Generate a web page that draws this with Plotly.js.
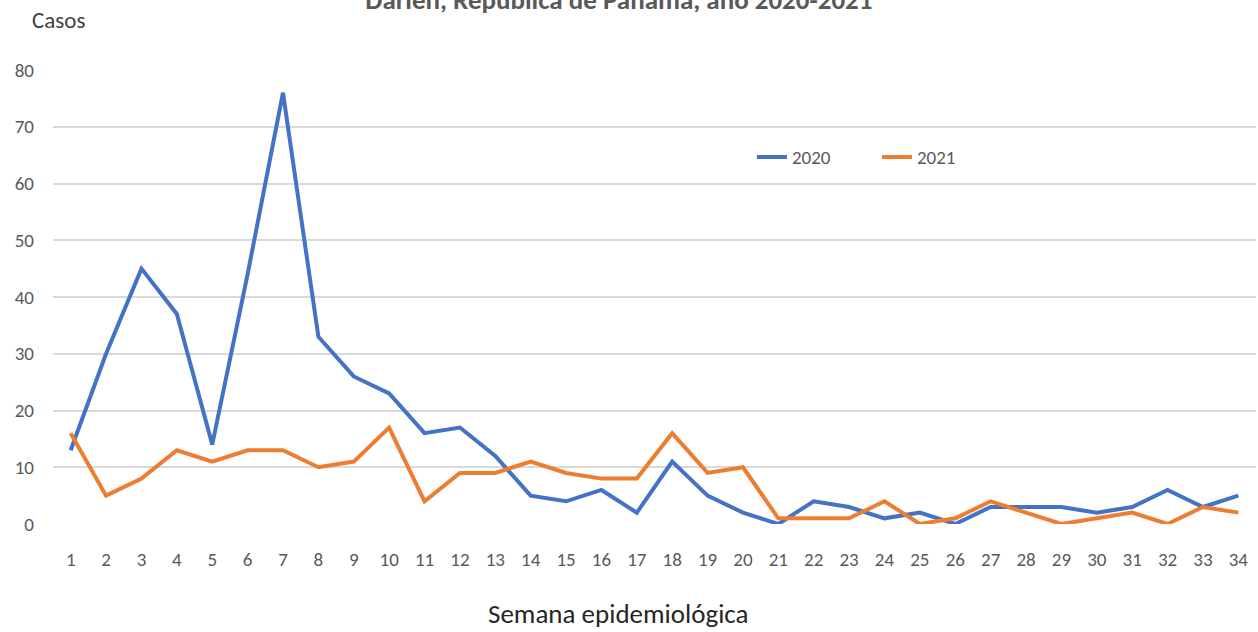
<!DOCTYPE html>
<html>
<head>
<meta charset="utf-8">
<script src="https://cdn.plot.ly/plotly-3.0.1.min.js"></script>
<style>html,body{margin:0;padding:0;background:#fff;}#chart{width:1258px;height:632px;}</style>
</head>
<body>
<div id="chart"></div>
<script>
const weeks = Array.from({length:34},(_, i) => i + 1);
const weekLabels = weeks.map(String);
const cases2020 = [13,30,45,37,14,44,76,33,26,23,16,17,12,5,4,6,2,11,5,2,0,4,3,1,2,0,3,3,3,2,3,6,3,5];
const cases2021 = [16,5,8,13,11,13,13,10,11,17,4,9,9,11,9,8,8,16,9,10,1,1,1,4,0,1,4,2,0,1,2,0,3,2];
const seriesNames = ['2020','2021'];
const titleText = 'Darién, República de Panamá, año 2020-2021';
const yTitle = 'Casos';
const xTitle = 'Semana epidemiológica';

const FONT = "Carlito, 'Liberation Sans Narrow', Lato, sans-serif";
const traces = [
  {x: weeks, y: cases2020, name: seriesNames[0], type: 'scatter', mode: 'lines',
   line: {color: '#4472C4', width: 4}},
  {x: weeks, y: cases2021, name: seriesNames[1], type: 'scatter', mode: 'lines',
   line: {color: '#ED7D31', width: 4}}
];
const layout = {
  width: 1258, height: 632,
  margin: {l: 53, r: 2, t: 70, b: 108},
  paper_bgcolor: '#fff', plot_bgcolor: '#fff',
  font: {family: FONT, color: '#595959', size: 19},
  title: {text: '<b>' + titleText + '</b>', x: 0.492, xanchor: 'center', y: 1, yref: 'container', yanchor: 'middle',
          font: {family: FONT, size: 27, color: '#595959'}},
  xaxis: {range: [0.5, 34.5], tickmode: 'array', tickvals: weeks, ticktext: weekLabels,
          showgrid: false, zeroline: false, showline: false, ticks: '', ticklabelstandoff: 22,
          tickfont: {size: 19, color: '#595959'}, fixedrange: true},
  yaxis: {range: [0, 80], dtick: 10, showgrid: true, gridcolor: '#d9d9d9', gridwidth: 2,
          zeroline: false, showline: false, ticks: '', ticklabelstandoff: 18,
          tickfont: {size: 19, color: '#595959'}, fixedrange: true},
  legend: {orientation: 'h', x: 0.581, xanchor: 'left', y: 0.808, yanchor: 'middle', entrywidth: 80,
           font: {size: 19, color: '#595959'}, bgcolor: 'rgba(0,0,0,0)', traceorder: 'normal'},
  annotations: [
    {text: yTitle, xref: 'paper', yref: 'paper', x: -0.019, y: 1.110, xanchor: 'left', yanchor: 'middle',
     showarrow: false, font: {size: 23, color: '#404040'}},
    {text: xTitle, xref: 'paper', yref: 'paper', x: 0.47, y: -0.197, xanchor: 'center', yanchor: 'middle',
     showarrow: false, font: {size: 27, color: '#262626'}}
  ],
  showlegend: true
};
Plotly.newPlot('chart', traces, layout, {displayModeBar: false, staticPlot: true});
</script>
</body>
</html>
